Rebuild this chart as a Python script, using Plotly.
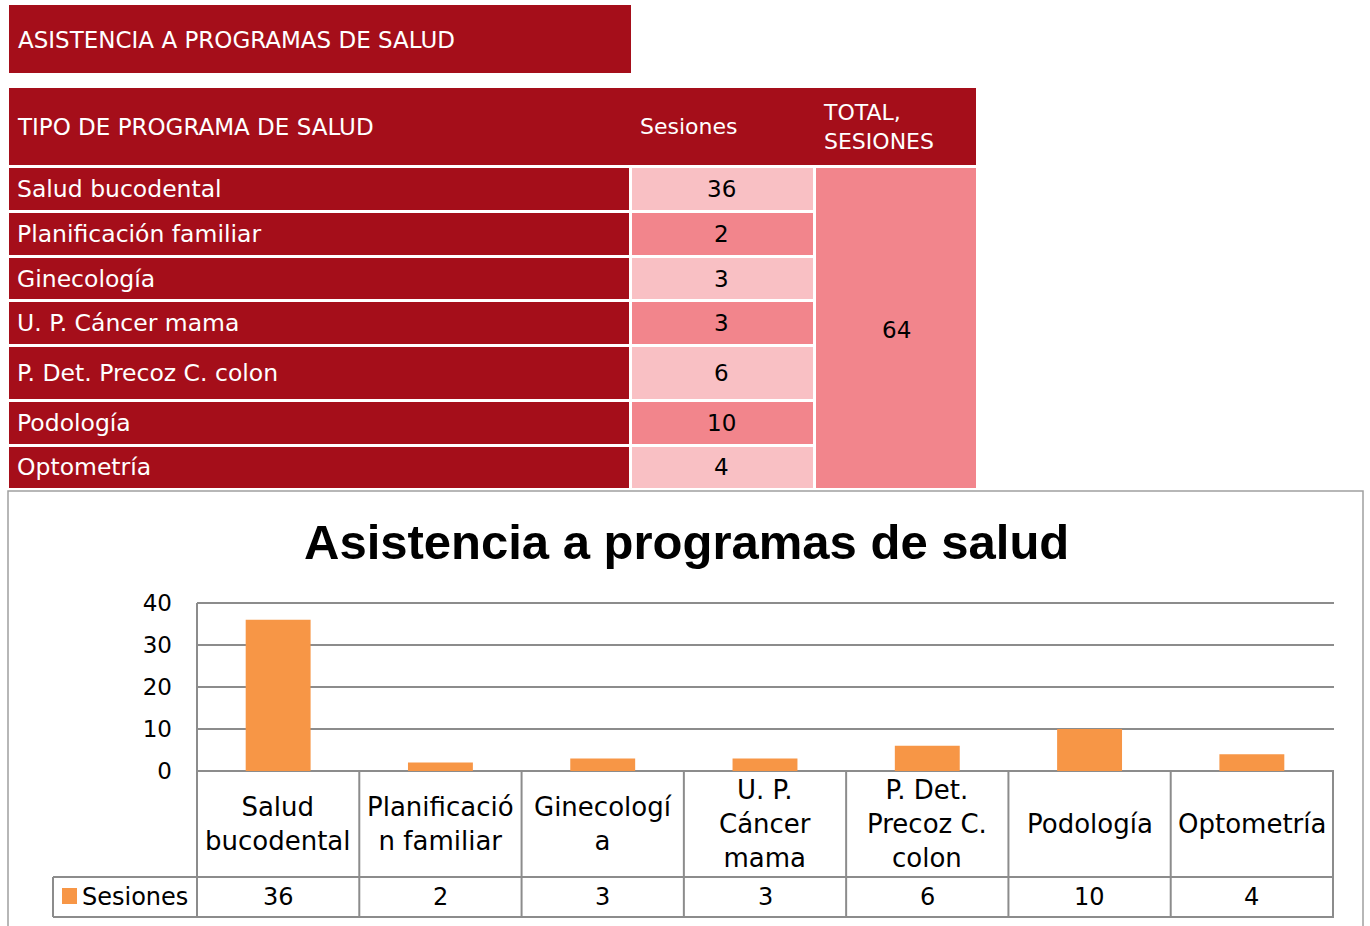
import plotly.graph_objects as go

W, H = 1370, 926

# ---------------- data ----------------
categories = ["Salud bucodental", "Planificación familiar", "Ginecología",
              "U. P. Cáncer mama", "P. Det. Precoz C. colon", "Podología", "Optometría"]
sesiones = [36, 2, 3, 3, 6, 10, 4]
total_sesiones = 64
chart_labels = ["Salud<br>bucodental", "Planificació<br>n familiar", "Ginecologí<br>a",
                "U. P.<br>Cáncer<br>mama", "P. Det.<br>Precoz C.<br>colon",
                "Podología", "Optometría"]
y_ticks = [0, 10, 20, 30, 40]
series_name = "Sesiones"

# ---------------- style ----------------
DARK = "#A50E1A"
LIGHT = "#F9C0C4"
MED = "#F2858C"
ORANGE = "#F79646"
GRID = "#8C8C8C"
FONT = "DejaVu Sans"
TFONT = 23


def fx(x):
    return x / W


def fy(y):
    return 1 - y / H


row_bounds = [(168, 210), (213, 255), (258, 299), (302, 344), (347, 399), (402, 444), (447, 488)]

shapes = []
annotations = []

# top title box
shapes.append(dict(type="rect", xref="paper", yref="paper", x0=fx(9), x1=fx(631), y0=fy(73), y1=fy(5),
                   fillcolor=DARK, line=dict(width=0), layer="below"))
annotations.append(dict(xref="paper", yref="paper", x=fx(16), y=fy(40), xanchor="left", yanchor="middle",
                        text="ASISTENCIA A PROGRAMAS DE SALUD", showarrow=False,
                        font=dict(family=FONT, size=TFONT, color="white")))

# header row
shapes.append(dict(type="rect", xref="paper", yref="paper", x0=fx(9), x1=fx(976), y0=fy(165), y1=fy(88),
                   fillcolor=DARK, line=dict(width=0), layer="below"))
annotations.append(dict(xref="paper", yref="paper", x=fx(15), y=fy(127), xanchor="left", yanchor="middle",
                        text="TIPO DE PROGRAMA DE SALUD", showarrow=False,
                        font=dict(family=FONT, size=TFONT, color="white")))
annotations.append(dict(xref="paper", yref="paper", x=fx(688), y=fy(127), xanchor="center", yanchor="middle",
                        text="Sesiones", showarrow=False,
                        font=dict(family=FONT, size=22, color="white")))
annotations.append(dict(xref="paper", yref="paper", x=fx(821), y=fy(127), xanchor="left", yanchor="middle",
                        text="TOTAL,<br>SESIONES", showarrow=False, align="left",
                        font=dict(family=FONT, size=22, color="white")))

# body rows
for i, (name, val) in enumerate(zip(categories, sesiones)):
    t, b = row_bounds[i]
    shapes.append(dict(type="rect", xref="paper", yref="paper", x0=fx(9), x1=fx(629), y0=fy(b), y1=fy(t),
                       fillcolor=DARK, line=dict(width=0), layer="below"))
    shapes.append(dict(type="rect", xref="paper", yref="paper", x0=fx(632), x1=fx(813), y0=fy(b), y1=fy(t),
                       fillcolor=LIGHT if i % 2 == 0 else MED, line=dict(width=0), layer="below"))
    annotations.append(dict(xref="paper", yref="paper", x=fx(15), y=fy((t + b) / 2), xanchor="left",
                            yanchor="middle", text=name, showarrow=False,
                            font=dict(family=FONT, size=23.5, color="white")))
    annotations.append(dict(xref="paper", yref="paper", x=fx(722), y=fy((t + b) / 2), xanchor="center",
                            yanchor="middle", text=str(val), showarrow=False,
                            font=dict(family=FONT, size=TFONT, color="black")))

shapes.append(dict(type="rect", xref="paper", yref="paper", x0=fx(816), x1=fx(976), y0=fy(488), y1=fy(168),
                   fillcolor=MED, line=dict(width=0), layer="below"))
annotations.append(dict(xref="paper", yref="paper", x=fx(896), y=fy(330), xanchor="center", yanchor="middle",
                        text=str(total_sesiones), showarrow=False,
                        font=dict(family=FONT, size=TFONT, color="black")))

# chart border
shapes.append(dict(type="rect", xref="paper", yref="paper", x0=fx(8), x1=fx(1363), y0=fy(940), y1=fy(491),
                   fillcolor="rgba(0,0,0,0)", line=dict(width=1.5, color="#A0A0A0"), layer="below"))

# chart title
annotations.append(dict(xref="paper", yref="paper", x=fx(686), y=fy(542), xanchor="center", yanchor="middle",
                        text="<b>Asistencia a programas de salud</b>", showarrow=False,
                        font=dict(family="Liberation Sans", size=49, color="black")))

# data table lines
LW = 2
shapes.append(dict(type="line", xref="paper", yref="paper", x0=fx(197), x1=fx(197), y0=fy(917), y1=fy(603),
                   line=dict(color=GRID, width=LW)))
for yy in (877, 917):
    shapes.append(dict(type="line", xref="paper", yref="paper", x0=fx(53), x1=fx(1334), y0=fy(yy), y1=fy(yy),
                       line=dict(color=GRID, width=LW)))
shapes.append(dict(type="line", xref="paper", yref="paper", x0=fx(53), x1=fx(53), y0=fy(917), y1=fy(877),
                   line=dict(color=GRID, width=LW)))
for i in range(len(categories)):
    shapes.append(dict(type="line", xref="x", yref="paper", x0=i + 0.5, x1=i + 0.5, y0=fy(917), y1=fy(771),
                       line=dict(color=GRID, width=LW)))

for cat, lab, val in zip(categories, chart_labels, sesiones):
    annotations.append(dict(xref="x", yref="paper", x=cat, y=fy(824), xanchor="center", yanchor="middle",
                            text=lab, showarrow=False,
                            font=dict(family=FONT, size=26, color="black")))
    annotations.append(dict(xref="x", yref="paper", x=cat, y=fy(897), xanchor="center", yanchor="middle",
                            text=str(val), showarrow=False,
                            font=dict(family=FONT, size=24, color="black")))

# legend key in table
shapes.append(dict(type="rect", xref="paper", yref="paper", x0=fx(62), x1=fx(77), y0=fy(904), y1=fy(888),
                   fillcolor=ORANGE, line=dict(width=0)))
annotations.append(dict(xref="paper", yref="paper", x=fx(80), y=fy(897), xanchor="left", yanchor="middle",
                        text=series_name, showarrow=False,
                        font=dict(family=FONT, size=24, color="black")))

fig = go.Figure(go.Bar(x=categories, y=sesiones, name=series_name, marker=dict(color=ORANGE, line=dict(width=0)),
                       showlegend=False, hoverinfo="x+y"))

fig.update_layout(
    width=W, height=H, autosize=False,
    margin=dict(l=0, r=0, t=0, b=0, pad=0, autoexpand=False),
    paper_bgcolor="white", plot_bgcolor="rgba(0,0,0,0)",
    bargap=0.6, showlegend=False,
    shapes=shapes, annotations=annotations,
    xaxis=dict(domain=[fx(197), fx(1334)], showticklabels=False, showgrid=False, zeroline=False,
               showline=False, ticks="", categoryorder="array", categoryarray=categories, automargin=False),
    yaxis=dict(domain=[fy(771), fy(598.8)], range=[0, 41], tickvals=y_ticks, showgrid=True,
               gridcolor=GRID, gridwidth=LW, zeroline=True, zerolinecolor=GRID, zerolinewidth=LW,
               showline=False, ticks="", ticklabelstandoff=24, automargin=False,
               tickfont=dict(family=FONT, size=23, color="black")),
    font=dict(family=FONT),
)

fig.write_html("out.html", config={"displayModeBar": False},
               post_script="document.body.style.margin='0';document.body.style.overflow='hidden';")
